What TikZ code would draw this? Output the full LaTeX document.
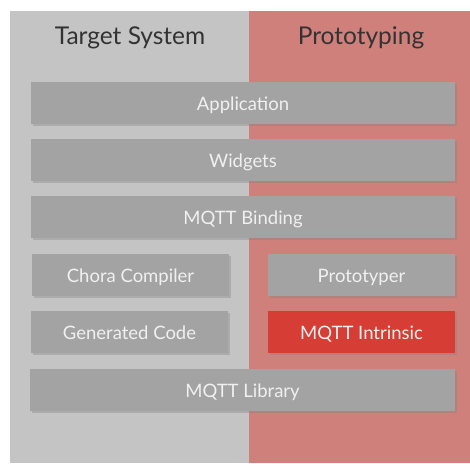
\documentclass[tikz,border=0pt]{standalone}
\usepackage{fontspec}
\setmainfont{Lato}
\usepackage{xcolor}
\usetikzlibrary{shadows}
\definecolor{panelgray}{HTML}{C4C4C4}
\definecolor{panelred}{HTML}{D0807A}
\definecolor{boxgray}{HTML}{A3A3A3}
\definecolor{boxred}{HTML}{D63D34}
\definecolor{headtext}{HTML}{333333}
\tikzstyle{layer} = [fill=boxgray, text=white!94!black, minimum height=42pt, inner sep=0pt, text height=20pt, text depth=5pt, font=\fontsize{18.5}{22}\selectfont, drop shadow={shadow xshift=1.5pt, shadow yshift=-2pt, opacity=0.35}]
\tikzstyle{header} = [text=headtext, font=\fontsize{24.5}{29}\selectfont]

\begin{document}
\begin{tikzpicture}[x=1pt, y=-1pt]
    % 背景
    \useasboundingbox (0,0) rectangle (470,463);
    \fill[white] (0,0) rectangle (470,463);
    \fill[panelgray] (10,11) rectangle (249,463);
    \fill[panelred] (249,11) rectangle (470,463);

    % 标题
    \node [header] (target) at (130,38) {Target System};
    \node [header] (proto) at (361,38) {Prototyping};

    % 放置节点
    \node [layer, minimum width=424pt] (app) at (243,102.5) {Application};
    \node [layer, minimum width=424pt] (widgets) at (243,159.5) {Widgets};
    \node [layer, minimum width=424pt] (binding) at (243,217) {MQTT Binding};
    \node [layer, minimum width=197pt] (compiler) at (130.5,274.5) {Chora Compiler};
    \node [layer, minimum width=187pt] (prototyper) at (361.5,274.5) {Prototyper};
    \node [layer, minimum width=197pt] (gencode) at (129.5,332) {Generated Code};
    \node [layer, minimum width=187pt, fill=boxred] (intrinsic) at (361.5,332) {MQTT Intrinsic};
    \node [layer, minimum width=425pt] (library) at (242.5,390) {MQTT Library};
\end{tikzpicture}
\end{document}
